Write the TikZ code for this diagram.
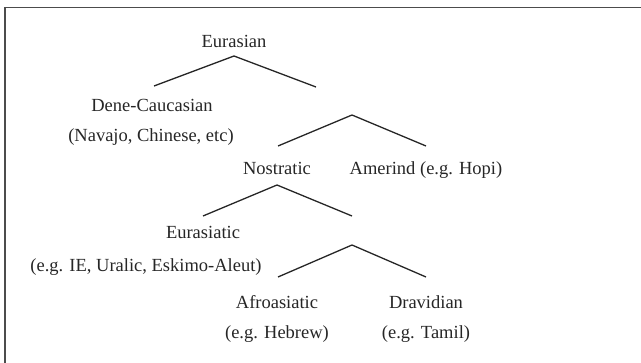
\documentclass[tikz,border=0pt]{standalone}
\usepackage{fontspec}
\setmainfont{Liberation Serif}
\begin{document}
\begin{tikzpicture}[x=1pt,y=-1pt,
  lbl/.style={anchor=base,inner sep=0pt,font=\fontsize{18.5}{22}\selectfont,text=black!85},
  branch/.style={line width=1.3pt,draw=black!85}]
\useasboundingbox (0,0) rectangle (641,363);
\draw[line width=1.6pt,black!70] (5,370) -- (5,7.5) -- (650,7.5);
\node[lbl] (eur) at (234,48) {Eurasian};
\coordinate (a1) at (234,56);
\coordinate (a1l) at (154,86);
\coordinate (a1r) at (316,87);
\node[lbl] (dene) at (152,112) {Dene-Caucasian};
\node[lbl] (dene2) at (151,142) {(Navajo, Chinese, etc)};
\coordinate (a2) at (352,115);
\coordinate (a2l) at (278,146);
\coordinate (a2r) at (426,146);
\node[lbl] (nos) at (277,175) {Nostratic};
\node[lbl] (ame) at (426,175) {Amerind (e.g. Hopi)};
\coordinate (a3) at (277,185);
\coordinate (a3l) at (203,216);
\coordinate (a3r) at (352,216);
\node[lbl] (eua) at (203,239) {Eurasiatic};
\node[lbl] (eua2) at (146,272) {(e.g. IE, Uralic, Eskimo-Aleut)};
\coordinate (a4) at (352,245);
\coordinate (a4l) at (278,277);
\coordinate (a4r) at (426,277);
\node[lbl] (afr) at (277,309) {Afroasiatic};
\node[lbl] (afr2) at (277,339) {(e.g. Hebrew)};
\node[lbl] (dra) at (426,309) {Dravidian};
\node[lbl] (dra2) at (426,339) {(e.g. Tamil)};
\draw[branch] (a1l) -- (a1) -- (a1r);
\draw[branch] (a2l) -- (a2) -- (a2r);
\draw[branch] (a3l) -- (a3) -- (a3r);
\draw[branch] (a4l) -- (a4) -- (a4r);
\end{tikzpicture}
\end{document}
